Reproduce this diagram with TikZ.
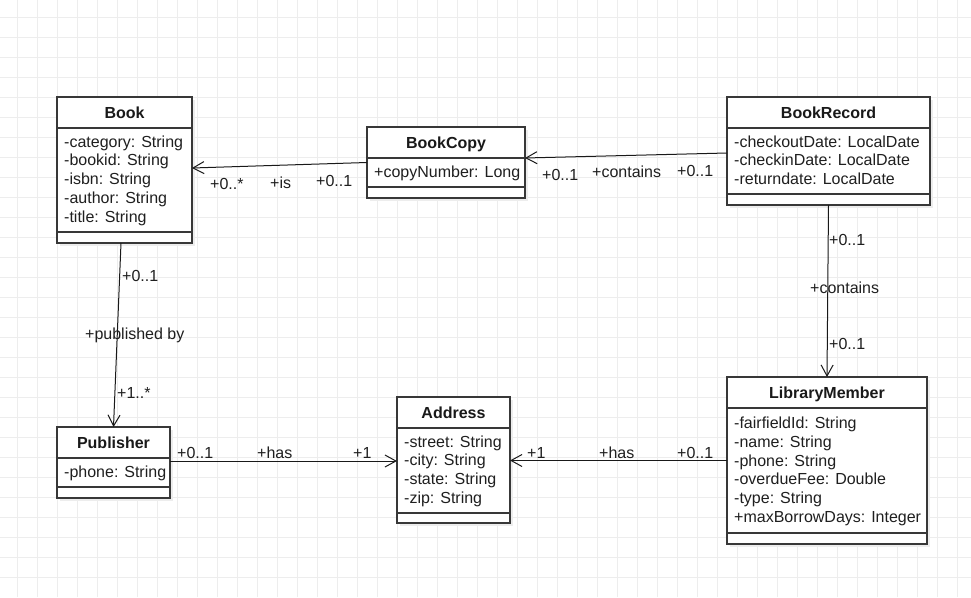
\documentclass[tikz,border=0pt]{standalone}
\usepackage{fontspec}
\setmainfont{Liberation Sans}
\usetikzlibrary{arrows.meta,calc}
\newcommand{\mkclass}[8]{%
  \node[shadowbox, minimum width=#4pt, minimum height=#5pt] (#1-shadow) at (#2+3,#3+3) {};
  \node[classbox, minimum width=#4pt, minimum height=#5pt] (#1) at (#2,#3) {};
  \draw[sep] ($(#1.north west)+(0,#6)$) -- ($(#1.north east)+(0,#6)$);
  \draw[sep] ($(#1.north west)+(0,#7)$) -- ($(#1.north east)+(0,#7)$);
  \node[classtitle] (#1-title) at ($(#1.north)+(0,21.3)$) {#8};
}
\newcommand{\mkattrs}[3]{%
  \foreach \t [count=\i] in {#3} {
    \node[attr] (#1-a\i) at ($(#1.north west)+(7,#2+18.75*\i-18.75)$) {\t};
  }
}
\begin{document}
\begin{tikzpicture}[x=1pt,y=-1pt,
  gridline/.style={draw=black!7, line width=0.8pt},
  classbox/.style={draw=black!78, line width=1.2pt, fill=white, anchor=north west, inner sep=0pt, outer sep=0pt},
  shadowbox/.style={fill=black!7, draw=none, anchor=north west, inner sep=0pt, outer sep=0pt},
  sep/.style={draw=black!78, line width=1.2pt},
  classtitle/.style={font=\fontsize{16}{19}\selectfont\bfseries, anchor=base, inner sep=0pt, text=black!90},
  attr/.style={font=\fontsize{16}{19}\selectfont, anchor=base west, inner sep=0pt, text=black!88},
  lbl/.style={font=\fontsize{16}{19}\selectfont, anchor=base west, inner sep=0pt, text=black!88},
  assoc/.style={draw=black!90, line width=1pt, -{Straight Barb[length=11pt,width=12pt,line width=1pt]}},
]
\useasboundingbox (0,0) rectangle (971,597);
\fill[white] (0,0) rectangle (971,597);
\foreach \gx in {17,37,...,957} \draw[gridline] (\gx,0) -- (\gx,597);
\foreach \gy in {17,37,...,577} \draw[gridline] (0,\gy) -- (971,\gy);

\mkclass{book}{57}{97}{135}{146}{31}{135}{Book}
\mkattrs{book}{50}{-category: String,-bookid: String,-isbn: String,-author: String,-title: String}

\mkclass{bookcopy}{367}{127}{158}{71}{31}{60}{BookCopy}
\mkattrs{bookcopy}{50}{+copyNumber: Long}

\mkclass{bookrecord}{727}{97}{203}{108}{31}{97}{BookRecord}
\mkattrs{bookrecord}{50}{-checkoutDate: LocalDate,-checkinDate: LocalDate,-returndate: LocalDate}

\mkclass{publisher}{57}{427}{113}{71}{31}{60}{Publisher}
\mkattrs{publisher}{50}{-phone: String}

\mkclass{address}{397}{397}{113}{126}{31}{116}{Address}
\mkattrs{address}{50}{-street: String,-city: String,-state: String,-zip: String}

\mkclass{member}{727}{377}{200}{167}{31}{156}{LibraryMember}
\mkattrs{member}{51.5}{-fairfieldId: String,-name: String,-phone: String,-overdueFee: Double,-type: String,+maxBorrowDays: Integer}

% connectors
\draw[assoc] (bookcopy.west) -- ([yshift=2pt]book.east);
\draw[assoc] ([yshift=-2pt]bookrecord.west) -- ([yshift=4.5pt]bookcopy.east);
\draw[assoc] ([xshift=-3.5pt]book.south) -- (publisher.north);
\draw[assoc] (bookrecord.south) -- (member.north);
\draw[assoc] ([yshift=1.5pt]publisher.east) -- ([yshift=-1pt]address.west);
\draw[assoc] (member.west) -- ([yshift=-0.5pt]address.east);

% labels
\node[lbl] (l1a) at (210,189) {+0..*};
\node[lbl] (l1b) at (270,188) {+is};
\node[lbl] (l1c) at (316,186) {+0..1};

\node[lbl] (l2a) at (542,180) {+0..1};
\node[lbl] (l2b) at (592,177) {+contains};
\node[lbl] (l2c) at (677,176) {+0..1};

\node[lbl] (l3a) at (122,281) {+0..1};
\node[lbl] (l3b) at (85,339) {+published by};
\node[lbl] (l3c) at (117,398) {+1..*};

\node[lbl] (l4a) at (829,245) {+0..1};
\node[lbl] (l4b) at (810,293) {+contains};
\node[lbl] (l4c) at (829,349) {+0..1};

\node[lbl] (l5a) at (177,458) {+0..1};
\node[lbl] (l5b) at (257,458) {+has};
\node[lbl] (l5c) at (353,458) {+1};

\node[lbl] (l6a) at (527,458) {+1};
\node[lbl] (l6b) at (599,458) {+has};
\node[lbl] (l6c) at (677,458) {+0..1};
\end{tikzpicture}
\end{document}
